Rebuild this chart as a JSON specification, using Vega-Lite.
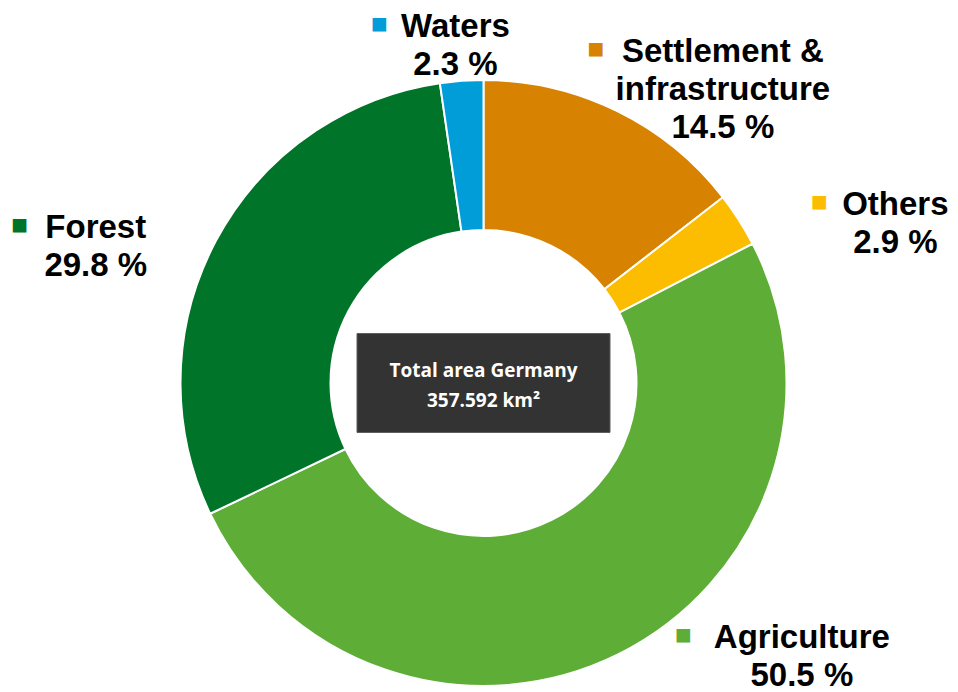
{
  "$schema": "https://vega.github.io/schema/vega-lite/v6.json",
  "width": 899,
  "height": 606,
  "autosize": {"type": "none"},
  "padding": {"left": 34, "top": 80, "right": 25, "bottom": 6},
  "background": "white",
  "view": {"stroke": null},
  "datasets": {
    "landuse": [
      {"category": "Settlement & infrastructure", "share": 14.5},
      {"category": "Others", "share": 2.9},
      {"category": "Agriculture", "share": 50.5},
      {"category": "Forest", "share": 29.8},
      {"category": "Waters", "share": 2.3}
    ],
    "total": [
      {"label": "Total area Germany", "area": "357.592 km²"}
    ]
  },
  "layer": [
    {
      "data": {"name": "landuse"},
      "transform": [{"window": [{"op": "row_number", "as": "rank"}]}],
      "encoding": {
        "theta": {"field": "share", "type": "quantitative", "stack": true},
        "order": {"field": "rank", "type": "quantitative"},
        "color": {
          "field": "category",
          "type": "nominal",
          "legend": null,
          "scale": {
            "domain": ["Settlement & infrastructure", "Others", "Agriculture", "Forest", "Waters"],
            "range": ["#D78200", "#FCBD00", "#5EAD37", "#007429", "#009DD9"]
          }
        }
      },
      "layer": [
        {
          "mark": {"type": "arc", "outerRadius": 303, "innerRadius": 153, "stroke": "white", "strokeWidth": 2}
        },
        {
          "mark": {
            "type": "text",
            "text": "■",
            "radius": 303,
            "font": "Liberation Sans",
            "fontSize": 28,
            "align": "center",
            "baseline": "middle",
            "dx": {"expr": "sin(PI*(datum.share_start+datum.share_end)/100)*(length(split(replace(datum.category, ' & ', ' &\\n'), '\\n')[0])*8.5+90) + 40*max(sin(PI*(datum.share_start+datum.share_end)/100), 0) + 4 + (cos(PI*(datum.share_start+datum.share_end)/100) < 0 ? -cos(PI*(datum.share_start+datum.share_end)/100)*sin(PI*(datum.share_start+datum.share_end)/100)*200 : 0) - length(split(replace(datum.category, ' & ', ' &\\n'), '\\n')[0])*8.5 - 25"},
            "dy": {"expr": "cos(PI*(datum.share_start+datum.share_end)/100) > 0 ? -10 - pow(cos(PI*(datum.share_start+datum.share_end)/100), 3)*(length(split(replace(datum.category, ' & ', ' &\\n'), '\\n'))*24+22) : -18"}
          }
        },
        {
          "mark": {
            "type": "text",
            "text": {"expr": "split(replace(datum.category, ' & ', ' &\\n') + '\\n' + format(datum.share, '.1f') + ' %', '\\n')"},
            "radius": 303,
            "font": "Liberation Sans",
            "fontSize": 33,
            "fontWeight": "bold",
            "lineHeight": 38,
            "align": "center",
            "baseline": "top",
            "dx": {"expr": "sin(PI*(datum.share_start+datum.share_end)/100)*(length(split(replace(datum.category, ' & ', ' &\\n'), '\\n')[0])*8.5+90) + 40*max(sin(PI*(datum.share_start+datum.share_end)/100), 0) + 4 + (cos(PI*(datum.share_start+datum.share_end)/100) < 0 ? -cos(PI*(datum.share_start+datum.share_end)/100)*sin(PI*(datum.share_start+datum.share_end)/100)*200 : 0)"},
            "dy": {"expr": "-14 + (cos(PI*(datum.share_start+datum.share_end)/100) > 0 ? -10 - pow(cos(PI*(datum.share_start+datum.share_end)/100), 3)*(length(split(replace(datum.category, ' & ', ' &\\n'), '\\n'))*24+22) : -18)"}
          },
          "encoding": {"color": {"value": "#000000"}}
        }
      ]
    },
    {
      "data": {"name": "total"},
      "layer": [
        {
          "mark": {
            "type": "point",
            "shape": "M-1,-0.391L1,-0.391L1,0.391L-1,0.391Z",
            "size": 64009,
            "filled": true,
            "color": "#333333",
            "opacity": 1,
            "stroke": "#5c5c5c",
            "strokeWidth": 1
          },
          "encoding": {}
        },
        {
          "mark": {
            "type": "text",
            "text": {"expr": "[datum.label, datum.area]"},
            "font": "Open Sans",
            "fontSize": 19,
            "fontWeight": "bold",
            "lineHeight": 30,
            "align": "center",
            "baseline": "middle",
            "dy": -12,
            "color": "#FFFFFF"
          },
          "encoding": {}
        }
      ]
    }
  ]
}
